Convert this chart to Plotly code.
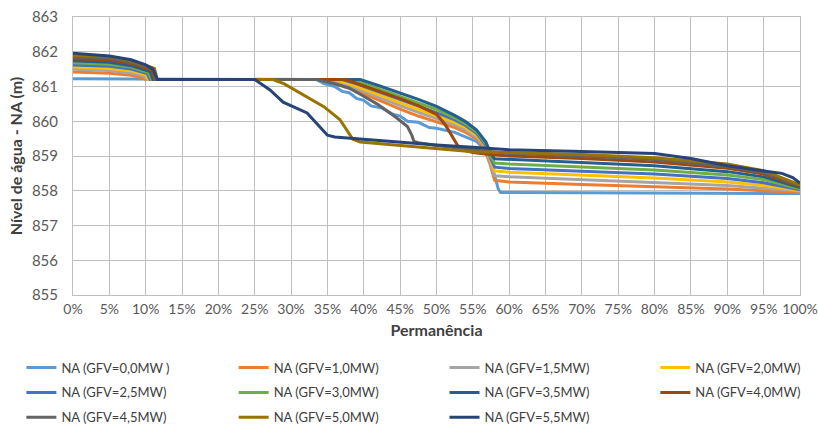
import plotly.graph_objects as go

# ---- data ----
names = ["NA (GFV=0,0MW )", "NA (GFV=1,0MW)", "NA (GFV=1,5MW)", "NA (GFV=2,0MW)",
         "NA (GFV=2,5MW)", "NA (GFV=3,0MW)", "NA (GFV=3,5MW)", "NA (GFV=4,0MW)",
         "NA (GFV=4,5MW)", "NA (GFV=5,0MW)", "NA (GFV=5,5MW)"]
colors = ["#5B9BD5", "#ED7D31", "#A5A5A5", "#FFC000", "#4472C4", "#70AD47",
          "#255E91", "#9E480E", "#636363", "#997300", "#264478"]

x_gfv00 = [0, 10, 33.5, 34.5, 36, 37, 38, 39, 40, 41, 42.5, 44, 45, 46, 47.5, 49, 50, 52.5, 54, 55.5, 56.5, 57.5, 58.5, 58.8, 70, 80, 90, 100]
y_gfv00 = [861.22, 861.21, 861.2, 861.08, 861.0, 860.86, 860.82, 860.66, 860.6, 860.44, 860.38, 860.2, 860.15, 860.0, 859.97, 859.82, 859.8, 859.68, 859.56, 859.42, 859.22, 858.8, 858.05, 857.95, 857.94, 857.94, 857.93, 857.92]

x_gfv10 = [0, 5, 8, 9.6, 10, 35, 37, 40, 42.5, 45, 47.5, 50, 52.5, 54, 55.5, 56.5, 57.3, 58, 60, 70, 80, 90, 95, 100]
y_gfv10 = [861.42, 861.38, 861.32, 861.25, 861.2, 861.2, 861.05, 860.8, 860.57, 860.35, 860.15, 859.98, 859.82, 859.68, 859.5, 859.25, 858.8, 858.3, 858.25, 858.18, 858.12, 858.05, 858.0, 857.96]

x_gfv15 = [0, 5, 8, 9.8, 10.2, 35.5, 37.5, 40, 42.5, 45, 47.5, 50, 52.5, 54, 55.5, 56.6, 57.3, 58, 60, 70, 80, 90, 95, 100]
y_gfv15 = [861.5, 861.46, 861.39, 861.3, 861.2, 861.2, 861.07, 860.86, 860.65, 860.45, 860.26, 860.08, 859.9, 859.75, 859.55, 859.28, 858.85, 858.43, 858.4, 858.32, 858.25, 858.15, 858.07, 857.99]

x_gfv20 = [0, 5, 8, 10, 10.4, 36, 38, 40, 42.5, 45, 47.5, 50, 52.5, 54, 55.5, 56.7, 57.4, 58, 60, 70, 80, 90, 95, 100]
y_gfv20 = [861.56, 861.52, 861.45, 861.34, 861.2, 861.2, 861.08, 860.93, 860.73, 860.53, 860.35, 860.17, 859.97, 859.82, 859.6, 859.3, 858.9, 858.57, 858.53, 858.45, 858.37, 858.25, 858.15, 858.01]

x_gfv25 = [0, 5, 8, 10.2, 10.6, 37, 39, 42.5, 45, 47.5, 50, 52.5, 54, 55.5, 56.7, 57.4, 58, 60, 70, 80, 90, 95, 100]
y_gfv25 = [861.62, 861.58, 861.5, 861.37, 861.2, 861.2, 861.08, 860.82, 860.62, 860.44, 860.25, 860.04, 859.88, 859.65, 859.33, 858.95, 858.68, 858.64, 858.56, 858.48, 858.35, 858.23, 858.03]

x_gfv30 = [0, 5, 8, 10.4, 10.8, 38, 40, 42.5, 45, 47.5, 50, 52.5, 54, 55.5, 56.8, 57.4, 58, 60, 70, 80, 90, 95, 100]
y_gfv30 = [861.68, 861.64, 861.56, 861.4, 861.2, 861.2, 861.08, 860.9, 860.71, 860.53, 860.34, 860.1, 859.93, 859.7, 859.36, 859.0, 858.8, 858.77, 858.69, 858.6, 858.45, 858.32, 858.06]

x_gfv35 = [0, 5, 8, 10.6, 11, 39.5, 42, 45, 47.5, 50, 52.5, 54, 55.5, 56.8, 57.5, 58, 60, 70, 80, 90, 95, 100]
y_gfv35 = [861.74, 861.7, 861.6, 861.43, 861.2, 861.2, 861.03, 860.82, 860.63, 860.43, 860.17, 859.99, 859.75, 859.4, 859.05, 858.92, 858.9, 858.82, 858.72, 858.55, 858.4, 858.09]

x_gfv40 = [0, 5, 8, 10.8, 11.2, 37.5, 40, 42.5, 45, 47.5, 50, 51.2, 52.3, 53.2, 55, 57, 60, 70, 80, 90, 95, 100]
y_gfv40 = [861.8, 861.76, 861.66, 861.47, 861.2, 861.2, 861.02, 860.84, 860.65, 860.45, 860.2, 859.9, 859.5, 859.2, 859.1, 859.05, 859.0, 858.93, 858.83, 858.65, 858.48, 858.12]

x_gfv45 = [0, 5, 8, 11, 11.4, 33.5, 36, 38, 40, 41.8, 44.5, 46, 46.6, 46.9, 47.5, 50, 55, 60, 70, 80, 90, 95, 100]
y_gfv45 = [861.85, 861.81, 861.7, 861.5, 861.2, 861.2, 861.08, 860.95, 860.72, 860.5, 860.1, 859.85, 859.6, 859.42, 859.38, 859.3, 859.18, 859.07, 859.0, 858.9, 858.7, 858.52, 858.14]

x_gfv50 = [0, 5, 8, 11.2, 11.6, 27.5, 29, 32.2, 34.5, 36.7, 37.7, 38.5, 39.5, 45, 50, 55, 60, 70, 80, 90, 95, 100]
y_gfv50 = [861.9, 861.86, 861.75, 861.52, 861.2, 861.2, 861.08, 860.7, 860.42, 860.05, 859.75, 859.48, 859.4, 859.3, 859.2, 859.12, 859.1, 859.04, 858.95, 858.77, 858.58, 858.17]

x_gfv55 = [0, 5, 8, 10, 11, 11.6, 25, 27.1, 28.9, 32.2, 34, 35, 36, 40, 45, 50, 55, 60, 70, 80, 85, 90, 95, 97.5, 99, 100]
y_gfv55 = [861.96, 861.88, 861.77, 861.62, 861.5, 861.2, 861.2, 860.9, 860.55, 860.24, 859.83, 859.6, 859.55, 859.48, 859.4, 859.32, 859.25, 859.18, 859.13, 859.07, 858.93, 858.72, 858.57, 858.5, 858.38, 858.22]

xs = [x_gfv00, x_gfv10, x_gfv15, x_gfv20, x_gfv25, x_gfv30, x_gfv35, x_gfv40, x_gfv45, x_gfv50, x_gfv55]
ys = [y_gfv00, y_gfv10, y_gfv15, y_gfv20, y_gfv25, y_gfv30, y_gfv35, y_gfv40, y_gfv45, y_gfv50, y_gfv55]

x_ticks = list(range(0, 101, 5))
x_ticklabels = [f"{v}%" for v in x_ticks]
y_ticks = list(range(855, 864))

FONT = "Lato, Liberation Sans, Arial"

fig = go.Figure()
# legend columns: items fill row by row across four columns
legend_ids = ["legend", "legend2", "legend3", "legend4",
              "legend", "legend2", "legend3", "legend4",
              "legend", "legend2", "legend3"]
for i in range(len(names)):
    fig.add_trace(go.Scatter(
        x=xs[i], y=ys[i], mode="lines", name=names[i],
        line=dict(color=colors[i], width=3),
        legend=legend_ids[i], legendgroup=f"g{i}",
    ))

grid = "#BFBFBF"
leg_common = dict(orientation="v", xanchor="left", yanchor="top",
                  font=dict(family=FONT, size=13, color="#404040"),
                  bgcolor="rgba(0,0,0,0)", itemwidth=30, tracegroupgap=5,
                  y=-0.207)
fig.update_layout(
    width=819, height=424,
    margin=dict(l=73, r=19, t=17, b=129, autoexpand=False),
    paper_bgcolor="white", plot_bgcolor="white",
    font=dict(family=FONT, color="#595959"),
    showlegend=True,
    legend=dict(x=-0.071, **leg_common),
    legend2=dict(x=0.221, **leg_common),
    legend3=dict(x=0.511, **leg_common),
    legend4=dict(x=0.801, **leg_common),
    xaxis=dict(range=[0, 100], tickvals=x_ticks, ticktext=x_ticklabels,
               showgrid=True, gridcolor=grid, gridwidth=1,
               showline=True, linecolor=grid, mirror=True, zeroline=False,
               tickfont=dict(family=FONT, size=14, color="#595959"),
               ticks="", ticklabelstandoff=1, fixedrange=True,
               title=dict(text="<b>Permanência</b>", standoff=9,
                          font=dict(family=FONT, size=16, color="#404040"))),
    yaxis=dict(range=[855, 863], tickvals=y_ticks,
               showgrid=True, gridcolor=grid, gridwidth=1,
               showline=True, linecolor=grid, mirror=True, zeroline=False,
               tickfont=dict(family=FONT, size=15, color="#595959"),
               ticks="", ticklabelstandoff=11, fixedrange=True,
               title=dict(text="<b>Nível de água - NA (m)</b>", standoff=5,
                          font=dict(family=FONT, size=16, color="#404040"))),
)

fig.write_html("out.html")
